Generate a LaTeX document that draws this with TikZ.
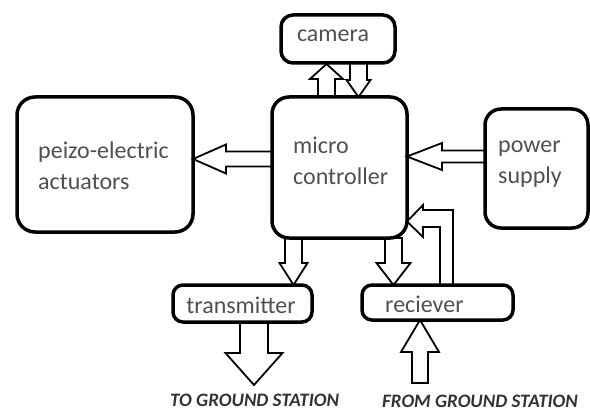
\documentclass[tikz,border=0pt]{standalone}
\usepackage{fontspec}
\setmainfont{Carlito}
\usetikzlibrary{calc}
\definecolor{txt}{HTML}{505050}
\definecolor{gstxt}{HTML}{333333}
\tikzset{
  box/.style={draw, line width=3.5pt, inner sep=0pt, outer sep=0pt},
  arrowline/.style={draw, line width=1.8pt, line join=miter},
  lbl/.style={font=\fontsize{24}{31}\selectfont, text=txt, inner sep=0pt, align=left},
  gslabel/.style={font=\fontsize{19}{22}\selectfont\bfseries\itshape, text=gstxt, inner sep=0pt}
}
% #1 tail, #2 angle, #3 length, #4 shaft half width, #5 head half width, #6 head length
\newcommand\blockarrow[6]{%
  \begin{scope}[shift={#1},rotate=#2]
    \draw[arrowline] (0,#4) -- (#3-#6,#4) -- (#3-#6,#5) -- (#3,0) -- (#3-#6,-#5) -- (#3-#6,-#4) -- (0,-#4) -- cycle;
  \end{scope}}
\begin{document}
\begin{tikzpicture}[x=1pt,y=-1pt]
\useasboundingbox[fill=white] (0,0) rectangle (590,412);
% boxes
\node[box, minimum width=114pt, minimum height=48pt, rounded corners=12pt] (camera) at (338,39) {};
\node[box, minimum width=135pt, minimum height=141pt, rounded corners=17pt] (micro) at (339.5,167.5) {};
\node[box, minimum width=176pt, minimum height=135pt, rounded corners=18pt] (act) at (105,164.5) {};
\node[box, minimum width=103pt, minimum height=119pt, rounded corners=16pt] (power) at (536.5,168.5) {};
\node[box, minimum width=139pt, minimum height=37pt, rounded corners=10pt] (trans) at (242.5,303.5) {};
\node[box, minimum width=151pt, minimum height=35pt, rounded corners=10pt] (recv) at (437.5,302.5) {};
% labels
\node[lbl] (camera-t) at (333,36) {camera};
\node[lbl, anchor=west] (micro-t) at (293,161) {micro\\controller};
\node[lbl, anchor=west] (act-t) at (38,166) {peizo-electric\\actuators};
\node[lbl, anchor=west] (power-t) at (498,164) {power\\supply};
\node[lbl] (trans-t) at (241,305) {transmitter};
\node[lbl, anchor=west] (recv-t) at (385,304) {reciever};
\node[gslabel, anchor=west] (to-gs) at (170,400) {TO GROUND STATION};
\node[gslabel, anchor=west] (from-gs) at (382,401) {FROM GROUND STATION};
\coordinate (gs-in) at (420,383);
% arrows
\blockarrow{($(micro.north)+(-13,0)$)}{90}{33}{8.5}{16.5}{15}
\blockarrow{($(camera.south)+(20.5,0)$)}{-90}{34}{8.5}{12}{17}
\blockarrow{($(micro.west)+(0,-8.5)$)}{180}{79}{7.5}{14.5}{33}
\blockarrow{($(power.west)+(0,-12)$)}{180}{78}{6}{13.5}{35}
\blockarrow{($(micro.south)+(-46,0)$)}{-90}{47}{8.5}{14}{22}
\blockarrow{($(micro.south)+(54,0)$)}{-90}{47}{8.5}{17}{22}
\blockarrow{($(trans.south)+(11.5,0)$)}{-90}{63}{14}{28.5}{32}
\blockarrow{(gs-in)}{90}{63}{8}{19}{32}
% feedback arrow from receiver to micro controller
\draw[arrowline] ($(recv.north)+(15.5,0)$) -- (453,210) -- (423,210) -- (423,205) -- ($(micro.east)+(0,54)$)
  -- (423,237) -- (423,227) -- (440,227) -- ($(recv.north)+(2.5,0)$);
\end{tikzpicture}
\end{document}
